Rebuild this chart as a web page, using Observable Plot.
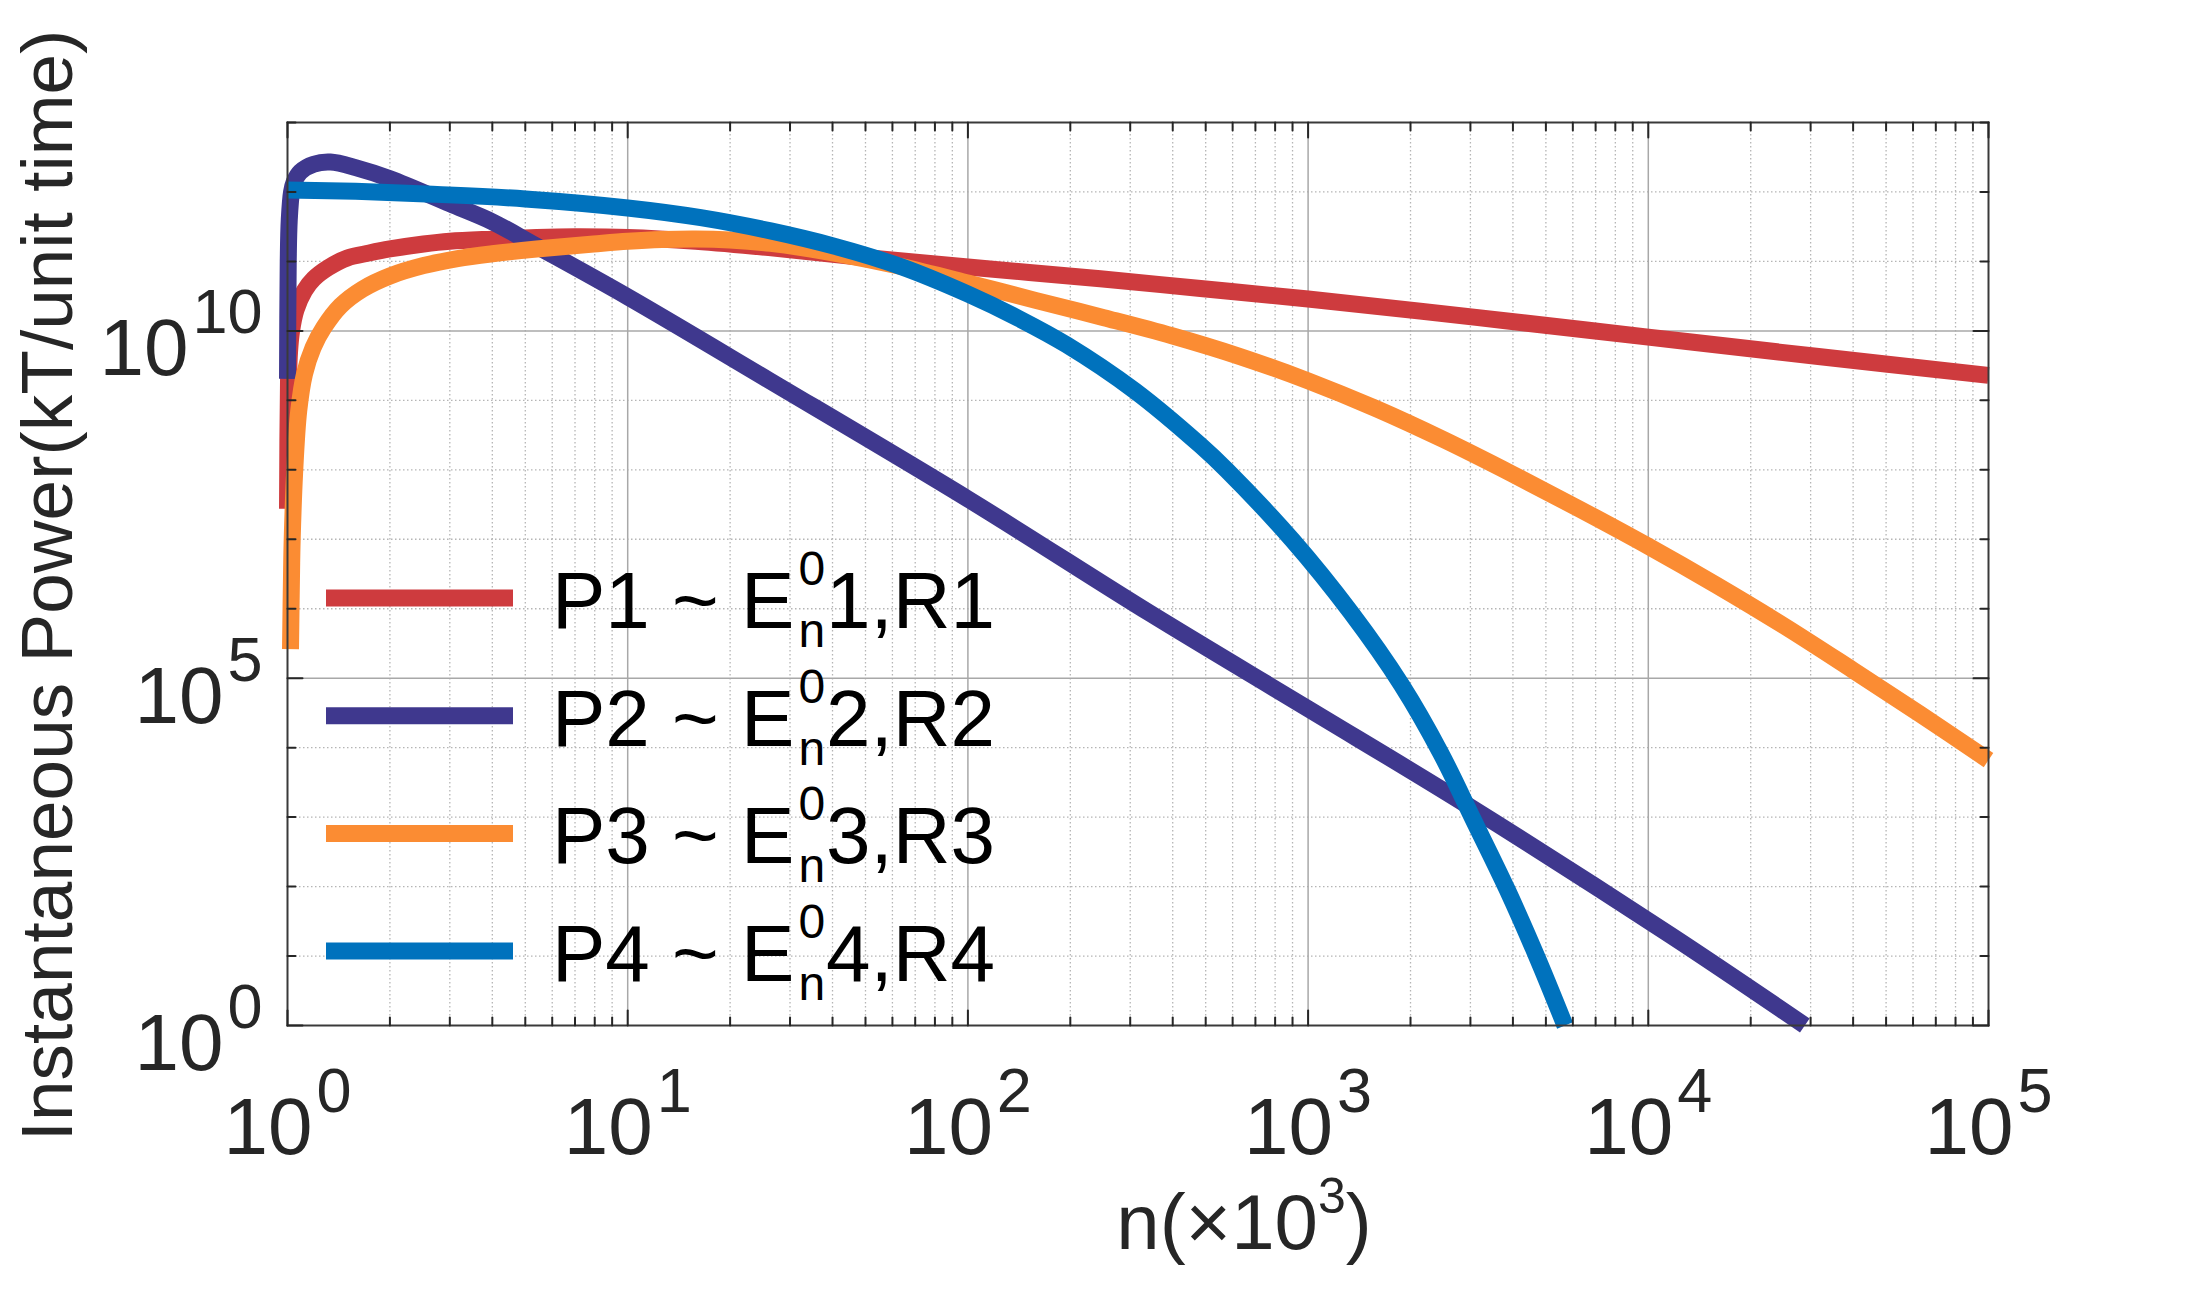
<!DOCTYPE html>
<html><head><meta charset="utf-8">
<script src="https://cdn.jsdelivr.net/npm/d3@7"></script>
<script src="https://cdn.jsdelivr.net/npm/@observablehq/plot@0.6"></script>
<style>
html,body{margin:0;padding:0;background:#fff;}
#chart{position:relative;width:2198px;height:1304px;}
#chart svg{overflow:visible;}
</style></head><body><div id="chart"></div>
<script>
const FONT = '"Liberation Sans", Arial, Helvetica, sans-serif';

// ---- data (n in units of 10^3, P in kT/unit time) ----
const nP1 = [1, 1.007, 1.014, 1.028, 1.059, 1.122, 1.194, 1.318, 1.5, 1.738, 2, 2.512, 3, 4, 5.4, 7, 10, 15.85, 26, 47, 100, 245, 483, 1000, 3162, 10000, 31623, 100000];
const pP1 = [2.75e7, 2.0e9, 5.0e9, 1.0e10, 2.0e10, 3.8e10, 5.62e10, 8.13e10, 1.12e11, 1.32e11, 1.51e11, 1.78e11, 1.95e11, 2.09e11, 2.21e11, 2.26e11, 2.21e11, 1.95e11, 1.58e11, 1.17e11, 8.32e10, 5.62e10, 4.07e10, 2.88e10, 1.55e10, 8.13e9, 4.27e9, 2.29e9];

const nP2 = [1, 1.005, 1.012, 1.028, 1.047, 1.091, 1.194, 1.337, 1.585, 2, 3, 4, 5.4, 10, 26, 100, 344, 1000, 2938, 11614, 28840];
const pP2 = [2.04e9, 1.0e11, 3.98e11, 1.0e12, 1.41e12, 1.95e12, 2.51e12, 2.69e12, 2.24e12, 1.55e12, 6.76e11, 3.72e11, 1.66e11, 3.09e10, 1.95e9, 3.8e7, 8.51e5, 3.63e4, 1479, 20, 1];

const nP3 = [1.0205, 1.028, 1.032, 1.049, 1.079, 1.122, 1.189, 1.279, 1.432, 1.66, 2, 2.512, 3.162, 4, 5.4, 7.94, 10, 12.6, 15.85, 19.95, 26.3, 40.4, 63.1, 100, 158, 251, 398, 631, 1000, 1585, 2512, 3981, 6310, 10000, 15849, 25119, 39811, 63096, 100000];
const pP3 = [2.63e5, 3.55e6, 9.55e6, 8.71e7, 7.08e8, 2.4e9, 5.75e9, 1.12e10, 2.29e10, 3.98e10, 6.17e10, 8.71e10, 1.1e11, 1.29e11, 1.51e11, 1.78e11, 1.95e11, 2.07e11, 2.11e11, 2.04e11, 1.82e11, 1.32e11, 8.51e10, 4.9e10, 2.75e10, 1.55e10, 8.51e9, 4.27e9, 1.91e9, 7.59e8, 2.69e8, 8.71e7, 2.69e7, 7.94e6, 2.19e6, 5.62e5, 1.32e5, 3.02e4, 6.61e3];

const nP4 = [1, 1.585, 2.75, 5.0, 10, 16.4, 26.3, 40.4, 63.1, 100, 141, 195, 309, 483, 578, 902, 1334, 1884, 2455, 3055, 3846, 4732, 5690];
const pP4 = [1.07e12, 1.02e12, 9.23e11, 7.94e11, 5.89e11, 4.27e11, 2.75e11, 1.66e11, 8.51e10, 3.39e10, 1.51e10, 6.31e9, 1.38e9, 2.24e8, 9.77e7, 9.55e6, 8.91e5, 7.94e4, 8.32e3, 933, 91, 9.1, 1];

const seriesColors = ["#CE3B3E", "#3F388E", "#FB8C33", "#0072BD"];
const legendPre = ["P1 ~ E", "P2 ~ E", "P3 ~ E", "P4 ~ E"];
const legendSup = ["0", "0", "0", "0"];
const legendSub = ["n", "n", "n", "n"];
const legendPost = ["1,R1", "2,R2", "3,R3", "4,R4"];

const xMajor = [1, 10, 100, 1000, 10000, 100000];
const xMajorExp = ["0", "1", "2", "3", "4", "5"];
const yMajor = [1, 1e5, 1e10];
const yMajorExp = ["0", "5", "10"];
const yLabel = "Instantaneous Power(kT/unit time)";
const xLabelParts = ["n(\u00d710", "3", ")"];

// minor log ticks
const xMinor = [];
for (let k = 0; k < 5; k++) for (let m = 2; m <= 9; m++) xMinor.push(m * Math.pow(10, k));
const yDecades = [];
for (let k = 0; k <= 13; k++) yDecades.push(Math.pow(10, k));
const yMinor = yDecades.filter(v => !yMajor.includes(v));
const xMajorGrid = xMajor.slice(1, -1);
const yMinorGrid = yMinor.filter(v => v < 1e13);
const yMajorGrid = yMajor.slice(1);

const mk = (ns, ps) => ns.map((n, i) => ({n, P: ps[i]}));
const series = [mk(nP1, pP1), mk(nP2, pP2), mk(nP3, pP3), mk(nP4, pP4)];

const tickShape = {draw(c, l) { c.moveTo(0, 0); c.lineTo(0, -l); }};
const TICK = "#262626";
const LW = 17;

const marks = [
  Plot.ruleX(xMinor, {x: d => d, stroke: "#b5b5b5", strokeWidth: 1.3, strokeDasharray: "1.5,2.5"}),
  Plot.ruleY(yMinorGrid, {y: d => d, stroke: "#b5b5b5", strokeWidth: 1.3, strokeDasharray: "1.5,2.5"}),
  Plot.ruleX(xMajorGrid, {x: d => d, stroke: "#a8a8a8", strokeWidth: 1.5}),
  Plot.ruleY(yMajorGrid, {y: d => d, stroke: "#a8a8a8", strokeWidth: 1.5}),
];
series.forEach((s, i) => {
  marks.push(Plot.line(s, {x: "n", y: "P", stroke: seriesColors[i], strokeWidth: LW,
    strokeLinecap: "butt", strokeLinejoin: "round", curve: "catmull-rom"}));
});
marks.push(Plot.frame({stroke: "#3a3a3a", strokeWidth: 2}));
// inward ticks on all four sides
const vt = (vals, xf, yf, len, rot) => Plot.vector(vals, {x: xf, y: yf, length: len, rotate: rot, anchor: "start", shape: tickShape, stroke: TICK, strokeWidth: 2});
marks.push(vt(xMajor, d => d, () => 1, 15, 0));
marks.push(vt(xMinor, d => d, () => 1, 8, 0));
marks.push(vt(xMajor, d => d, () => 1e13, 15, 180));
marks.push(vt(xMinor, d => d, () => 1e13, 8, 180));
marks.push(vt(yMajor, () => 1, d => d, 15, 90));
marks.push(vt(yMinor, () => 1, d => d, 8, 90));
marks.push(vt(yMajor, () => 1e5, d => d, 15, -90));
marks.push(vt(yMinor, () => 1e5, d => d, 8, -90));
// tick labels
marks.push(Plot.axisX({anchor: "bottom", ticks: xMajor, tickSize: 0, tickPadding: 72, fontSize: 80, label: null,
  tickFormat: d => "10^" + xMajorExp[xMajor.indexOf(d)]}));
marks.push(Plot.axisY({anchor: "left", ticks: yMajor, tickSize: 0, tickPadding: 25, fontSize: 80, dy: 19, label: null,
  tickFormat: d => "10^" + yMajorExp[yMajor.indexOf(d)]}));
// axis titles
marks.push(Plot.text([yLabel], {text: d => d, frameAnchor: "left", rotate: -90, dx: -216, dy: 11.5,
  textAnchor: "middle", lineAnchor: "bottom", fontSize: 73, fill: "#262626"}));
marks.push(Plot.text([xLabelParts.join("^")], {text: d => d, frameAnchor: "bottom", dx: 106, dy: 223,
  textAnchor: "middle", lineAnchor: "bottom", fontSize: 78, fill: "#262626"}));

const plot = Plot.plot({
  width: 2198, height: 1304,
  marginLeft: 287, marginRight: 210, marginTop: 122, marginBottom: 279,
  x: {type: "log", domain: [1, 1e5], label: null},
  y: {type: "log", domain: [1, 1e13], label: null},
  style: {fontFamily: FONT, background: "#fff", color: "#262626", overflow: "visible"},
  marks
});
document.getElementById("chart").appendChild(plot);

const NS = "http://www.w3.org/2000/svg";
function supify(sel, supSize, raise, gap) {
  plot.querySelectorAll(sel).forEach(t => {
    const m = t.textContent.match(/^10\^(\d+)$/);
    if (!m) return;
    t.textContent = "10";
    const ts = document.createElementNS(NS, "tspan");
    ts.setAttribute("dy", -raise);
    ts.setAttribute("dx", gap);
    ts.setAttribute("font-size", supSize);
    ts.textContent = m[1];
    t.appendChild(ts);
  });
}
supify('g[aria-label="x-axis tick label"] text', 63, 42, 4);
supify('g[aria-label="y-axis tick label"] text', 63, 42, 4);

// x-axis title with superscript
plot.querySelectorAll("text").forEach(t => {
  if (t.textContent === xLabelParts.join("^")) {
    t.textContent = xLabelParts[0];
    const s = document.createElementNS(NS, "tspan");
    s.setAttribute("dy", -36); s.setAttribute("font-size", 50); s.textContent = xLabelParts[1];
    const r = document.createElementNS(NS, "tspan");
    r.setAttribute("dy", 36); r.textContent = xLabelParts[2];
    t.appendChild(s); t.appendChild(r);
  }
});

// legend (inside the axes, no box)
const lg = d3.select(plot).append("g").attr("font-family", FONT).attr("fill", "#000").attr("text-anchor", "start");
legendPre.forEach((pre, i) => {
  const yc = 598 + i * 117.7;
  lg.append("line").attr("x1", 326).attr("x2", 513).attr("y1", yc).attr("y2", yc)
    .attr("stroke", seriesColors[i]).attr("stroke-width", LW);
  const base = yc + 30;
  const t1 = lg.append("text").attr("x", 552).attr("y", base).attr("font-size", 80).text(pre);
  const w1 = t1.node().getComputedTextLength();
  const xs = 552 + w1 + 4;
  const tsup = lg.append("text").attr("x", xs).attr("y", base - 43).attr("font-size", 48).text(legendSup[i]);
  const tsub = lg.append("text").attr("x", xs).attr("y", base + 19).attr("font-size", 48).text(legendSub[i]);
  const cw = Math.max(tsup.node().getComputedTextLength(), tsub.node().getComputedTextLength());
  lg.append("text").attr("x", xs + cw + 1).attr("y", base).attr("font-size", 80).text(legendPost[i]);
});
</script></body></html>
